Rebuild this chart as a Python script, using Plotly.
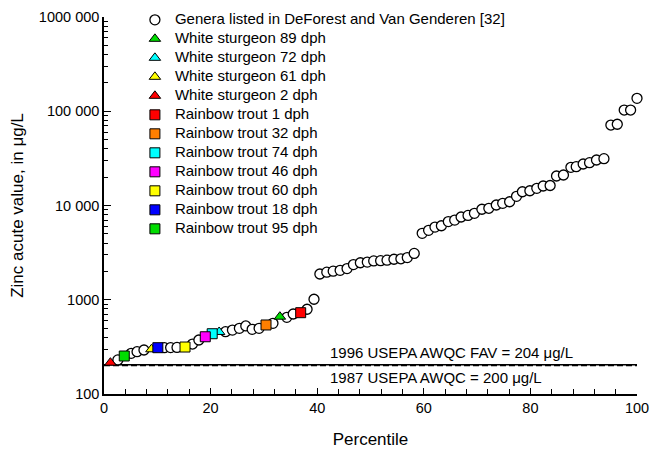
import math
import plotly.graph_objects as go

# ---------------- data ----------------
genera_pct = [2.6, 5.1, 6.2, 7.5, 11.3, 12.5, 13.7, 16.6, 17.8, 22.8, 24.1, 25.4, 26.6, 27.8, 29.1,
              31.7, 34.3, 35.5, 38.1, 39.4,
              40.5, 41.8, 43.0, 44.3, 45.6, 46.8, 48.1, 49.4, 50.6, 51.9, 53.1, 54.4, 55.7, 56.9, 58.2,
              59.7, 60.9, 62.1, 63.3, 64.6, 65.8, 67.0, 68.3, 69.5, 70.9, 72.2, 73.6, 74.8, 76.1,
              77.4, 78.5, 79.9, 81.2, 82.4, 83.7, 84.9, 86.2, 87.6, 88.6, 89.9, 91.1, 92.4, 93.8,
              95.1, 96.3, 97.6, 98.8, 100.0]
genera_val = [230, 270, 281, 293, 310, 311, 312, 339, 374, 458, 477, 497, 527, 485, 497,
              562, 651, 706, 793, 1012,
              1875, 1960, 2010, 2050, 2140, 2360, 2470, 2510, 2580, 2600, 2630, 2690, 2720, 2800, 3100,
              5070, 5450, 5900, 6100, 6750, 7000, 7550, 7850, 8260, 9120, 9340, 10120, 10540, 10960,
              12500, 14000, 14340, 15200, 16100, 16300, 20560, 21070, 25430, 25800, 27550, 28450, 30400, 31400,
              71400, 72800, 103000, 103000, 137000]

sturgeon_names = ["White sturgeon 89 dph", "White sturgeon 72 dph", "White sturgeon 61 dph", "White sturgeon 2 dph"]
sturgeon_pct = [33.0, 21.6, 8.9, 1.2]
sturgeon_val = [661, 455, 298, 215]
sturgeon_colors = ["#00dd00", "#00ffff", "#ffff00", "#ff0000"]

trout_names = ["Rainbow trout 1 dph", "Rainbow trout 32 dph", "Rainbow trout 74 dph", "Rainbow trout 46 dph",
               "Rainbow trout 60 dph", "Rainbow trout 18 dph", "Rainbow trout 95 dph"]
trout_pct = [36.9, 30.4, 20.3, 19.0, 15.2, 10.1, 3.8]
trout_val = [729, 540, 436, 405, 315, 310, 253]
trout_colors = ["#ff0000", "#ff7f00", "#00ffff", "#ff00ff", "#ffff00", "#0000ff", "#00dd00"]

genera_name = "Genera listed in DeForest and Van Genderen [32]"

fav_value = 204
awqc_value = 200
fav_label = "1996 USEPA AWQC FAV = 204 μg/L"
awqc_label = "1987 USEPA AWQC = 200 μg/L"

x_ticks = [0, 20, 40, 60, 80, 100]
y_ticks = [100, 1000, 10000, 100000, 1000000]
y_ticktext = ["100", "1000", "10 000", "100 000", "1000 000"]

# ---------------- figure ----------------
FONT = "Liberation Sans, Arial, Helvetica, sans-serif"


def leg(name):
    # legend rows are spaced by the (smaller) legend font size while the text shows at 15 px
    return '<span style="font-size:15px">' + name + '</span>'


fig = go.Figure()

# reference lines
fig.add_trace(go.Scatter(x=[0, 100], y=[fav_value, fav_value], mode="lines",
                         line=dict(color="black", width=1.6), showlegend=False, hoverinfo="skip"))
fig.add_trace(go.Scatter(x=[0, 100], y=[awqc_value, awqc_value], mode="lines",
                         line=dict(color="black", width=1.4, dash="6px,3px"), showlegend=False, hoverinfo="skip"))

fig.add_trace(go.Scatter(x=genera_pct, y=genera_val, mode="markers", name=leg(genera_name),
                         marker=dict(symbol="circle", size=10, color="white",
                                     line=dict(color="black", width=1.3)),
                         cliponaxis=False))

for n, p, v, c in zip(sturgeon_names, sturgeon_pct, sturgeon_val, sturgeon_colors):
    fig.add_trace(go.Scatter(x=[p], y=[v], mode="markers", name=leg(n),
                             marker=dict(symbol="triangle-up", size=10, color=c,
                                         line=dict(color="black", width=1)),
                             cliponaxis=False))

for n, p, v, c in zip(trout_names, trout_pct, trout_val, trout_colors):
    fig.add_trace(go.Scatter(x=[p], y=[v], mode="markers", name=leg(n),
                             marker=dict(symbol="square", size=10, color=c,
                                         line=dict(color="black", width=1)),
                             cliponaxis=False))

fig.add_annotation(x=42.0, y=math.log10(279), text=fav_label, showarrow=False,
                   xanchor="left", yanchor="middle", font=dict(size=15, color="black", family=FONT))
fig.add_annotation(x=42.0, y=math.log10(151), text=awqc_label, showarrow=False,
                   xanchor="left", yanchor="middle", font=dict(size=15, color="black", family=FONT))

minor_y = [m * 10 ** e for e in range(2, 6) for m in range(2, 10)]
minor_x = [v for v in range(4, 100, 4) if v % 20 != 0]

# the page body adds an 8 px offset, so the figure is 8 px smaller than the window
fig.update_layout(
    width=655, height=445,
    margin=dict(l=96, r=26, t=9, b=59, autoexpand=False),
    paper_bgcolor="white", plot_bgcolor="white",
    font=dict(family=FONT, size=14, color="black"),
    showlegend=True,
    legend=dict(x=0.058, y=1.031, xanchor="left", yanchor="top", maxheight=440,
                bgcolor="rgba(0,0,0,0)", font=dict(size=11.6), tracegroupgap=0),
    xaxis=dict(range=[0, 100], tickvals=x_ticks, ticks="inside", ticklen=6, tickwidth=1.2,
               tickcolor="black", showline=True, linecolor="black", linewidth=1.5,
               showgrid=False, zeroline=False, tickfont=dict(size=14.5),
               minor=dict(tickmode="array", tickvals=minor_x, ticks="inside", ticklen=5,
                          tickcolor="black", tickwidth=1.2, showgrid=False),
               title=dict(text="Percentile", font=dict(size=17), standoff=18)),
    yaxis=dict(type="log", range=[2, 6], tickvals=y_ticks, ticktext=y_ticktext,
               ticks="inside", ticklen=7, tickwidth=1.2, tickcolor="black",
               showline=True, linecolor="black", linewidth=1.5,
               showgrid=False, zeroline=False, tickfont=dict(size=14.5),
               minor=dict(tickmode="array", tickvals=minor_y, ticks="inside", ticklen=4,
                          tickcolor="black", tickwidth=1, showgrid=False),
               title=dict(text="Zinc acute value, in μg/L", font=dict(size=17), standoff=12)),
)

fig.write_html("out.html")
